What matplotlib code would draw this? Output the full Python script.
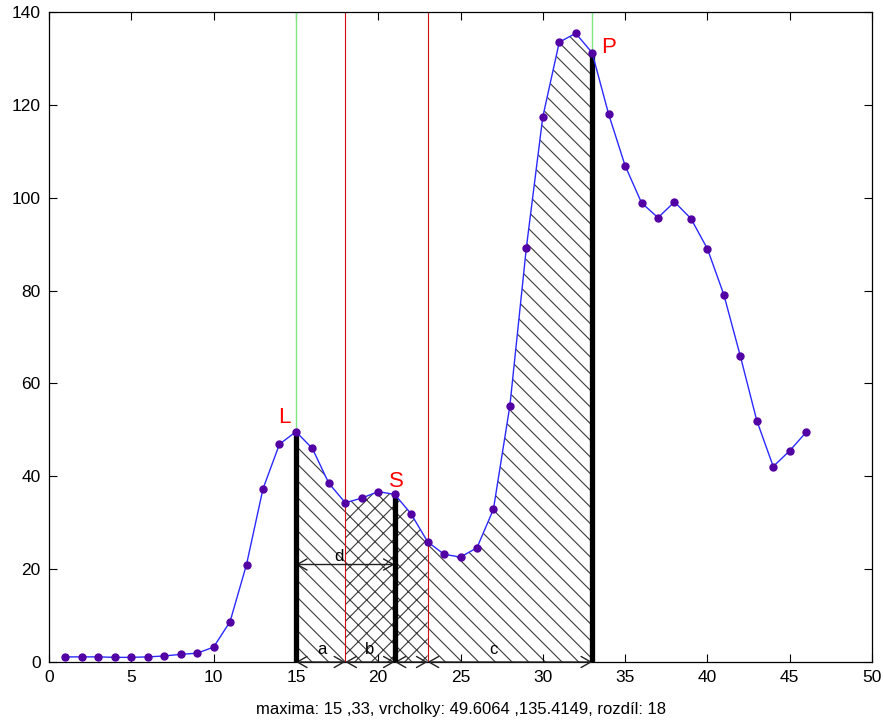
import numpy as np
import matplotlib
matplotlib.use("Agg")
import matplotlib.pyplot as plt

plt.rcParams['font.family'] = ['Liberation Sans', 'DejaVu Sans']
plt.rcParams['hatch.color'] = '#3a3a3a'
plt.rcParams['hatch.linewidth'] = 0.8

# signal samples
x = np.arange(1, 47)
y = [1.1, 1.1, 1.1, 1.0, 1.0, 1.1, 1.3, 1.65, 1.9, 3.2,
     8.7, 21.0, 37.3, 46.9, 49.6064, 46.0, 38.5, 34.3, 35.3, 36.7,
     36.1, 31.9, 25.9, 23.2, 22.6, 24.6, 32.9, 55.2, 89.2, 117.4,
     133.5, 135.4149, 131.2, 118.0, 106.9, 98.9, 95.7, 99.1, 95.5, 89.0,
     79.1, 65.9, 52.0, 42.1, 45.5, 49.5]
y = np.array(y)

# detected maxima, saddle and boundaries
left_peak, right_peak = 15, 33
saddle = 21
bounds = [18, 23]
caption = "maxima: 15 ,33, vrcholky: 49.6064 ,135.4149, rozdíl: 18"

fig = plt.figure(figsize=(8.83, 7.25), dpi=100)
ax = fig.add_axes([49/883, 1-662/725, (872-49)/883, (662-12)/725])

def yv(xx):
    return y[xx - 1]

def region(x0, x1, hatch):
    xs = x[(x >= x0) & (x <= x1)]
    ys = np.array([yv(v) for v in xs])
    ax.fill_between(xs, 0, ys, facecolor='none', edgecolor='#3a3a3a',
                    hatch=hatch, linewidth=0, zorder=1)

region(left_peak, bounds[0], '\\\\')
region(bounds[0], bounds[1], 'xx')
region(bounds[1], right_peak, '\\\\')

# guide lines
for v in (left_peak, right_peak):
    ax.axvline(v, color='#7ee87e', lw=1.0, zorder=2)
for v in bounds:
    ax.axvline(v, color='#d01010', lw=0.8, zorder=2)

# thick markers of peaks and saddle
for v in (left_peak, saddle, right_peak):
    ax.plot([v, v], [0, yv(v)], color='black', lw=3.8, zorder=4,
            solid_capstyle='butt')

# curve
ax.plot(x, y, color='#2a2aff', lw=1.0, zorder=5)
ax.plot(x, y, 'o', color='#5200a3', ms=5, zorder=6)

# distance arrows
arrow_kw = dict(arrowstyle='<->,head_length=0.7,head_width=0.4',
                color='#222222', lw=1.0, shrinkA=0, shrinkB=0)
segs = [(left_peak, bounds[0]), (bounds[0], saddle),
        (saddle, bounds[1]), (bounds[1], right_peak)]
for a, b in segs:
    ax.annotate('', xy=(b, 0), xytext=(a, 0), arrowprops=arrow_kw, zorder=3)
ax.annotate('', xy=(saddle, 21), xytext=(left_peak, 21),
            arrowprops=arrow_kw, zorder=3)

ax.text(16.6, 1.0, 'a', fontsize=12, ha='center', va='bottom', zorder=7)
ax.text(19.5, 1.0, 'b', fontsize=12, ha='center', va='bottom', zorder=7)
ax.text(27.0, 1.0, 'c', fontsize=12, ha='center', va='bottom', zorder=7)
ax.text(17.6, 21.2, 'd', fontsize=12, ha='center', va='bottom', zorder=7)

ax.text(14.3, 50.3, 'L', color='red', fontsize=16, ha='center', va='bottom')
ax.text(21.1, 36.7, 'S', color='red', fontsize=16, ha='center', va='bottom')
ax.text(34.0, 130.2, 'P', color='red', fontsize=16, ha='center', va='bottom')

ax.set_xlim(0, 50)
ax.set_ylim(0, 140)
ax.set_xticks(np.arange(0, 51, 5))
ax.set_yticks(np.arange(0, 141, 20))
ax.tick_params(direction='in', top=True, right=True, length=6, width=0.8,
               labelsize=12.5, pad=6)
for s in ax.spines.values():
    s.set_linewidth(0.9)
ax.set_xlabel(caption, fontsize=12, labelpad=12)

fig.savefig('out.png', dpi=100)
